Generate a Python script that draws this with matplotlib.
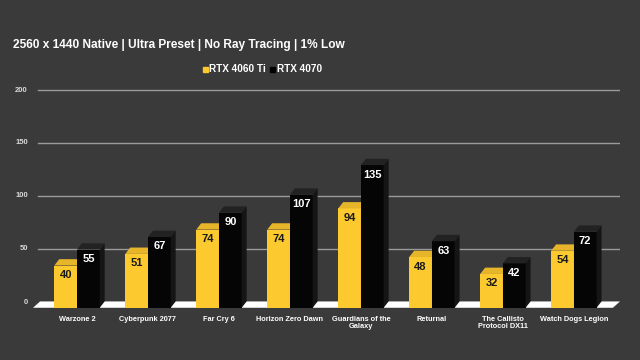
import matplotlib
matplotlib.use("Agg")
import matplotlib.pyplot as plt

# ============ data ============
games = ["Warzone 2", "Cyberpunk 2077", "Far Cry 6", "Horizon Zero Dawn",
         "Guardians of the\nGalaxy", "Returnal", "The Callisto\nProtocol DX11",
         "Watch Dogs Legion"]
rtx_4060ti = [40, 51, 74, 74, 94, 48, 32, 54]
rtx_4070 = [55, 67, 90, 107, 135, 63, 42, 72]
yticks = [0, 50, 100, 150, 200]

BG = "#3a3a3a"
YEL = "#FCC92E"
YEL_TOP = "#E7B52A"
YEL_SIDE = "#C99B1E"
BLK = "#050505"
BLK_TOP = "#222222"
BLK_SIDE = "#151515"

plt.rcParams['font.family'] = ['Liberation Sans', 'DejaVu Sans']

fig = plt.figure(figsize=(6.4, 3.6), dpi=100, facecolor=BG)
ax = fig.add_axes([33 / 640, 1 - 312 / 360, (620 - 33) / 640, (312 - 88) / 360])
ax.set_facecolor(BG)
ax.set_xlim(-0.62, 7.65)
ax.set_ylim(-10, 202)

W = 0.32    # bar width
DX = 0.07   # depth in x
DY = 6      # depth in y (value units)

# gridlines at the back wall
for t in yticks[1:]:
    ax.plot([-0.62 + DX, 7.65], [t, t], color="#9a9a9a", lw=1.0, zorder=1)

# floor
ax.fill([-0.62, 7.55, 7.55 + DX + 0.03, -0.62 + DX + 0.03],
        [-DY, -DY, 0, 0], color="white", zorder=2, lw=0)


def bar3d(x0, v, front, top, side):
    x1 = x0 + W
    ax.fill([x0, x1, x1, x0], [-DY, -DY, v - DY, v - DY], color=front, lw=0, zorder=3)
    ax.fill([x0, x1, x1 + DX, x0 + DX], [v - DY, v - DY, v, v], color=top, lw=0, zorder=3)
    ax.fill([x1, x1 + DX, x1 + DX, x1], [-DY, 0, v, v - DY], color=side, lw=0, zorder=3)


for i, (a, b) in enumerate(zip(rtx_4060ti, rtx_4070)):
    bar3d(i - W, a, YEL, YEL_TOP, YEL_SIDE)
    bar3d(i, b, BLK, BLK_TOP, BLK_SIDE)
    ax.text(i - W / 2, a - DY - 9, str(a), ha="center", va="center",
            fontsize=8, fontweight="bold", color="#1a1a1a", zorder=4)
    ax.text(i + W / 2, b - DY - 9, str(b), ha="center", va="center",
            fontsize=8, fontweight="bold", color="white", zorder=4)

for sp in ax.spines.values():
    sp.set_visible(False)
ax.set_xticks([])
ax.set_yticks([])

for t in yticks:
    fig.text(28 / 640, 1 - (302 - t * 1.06) / 360, str(t), ha="right", va="center",
             fontsize=5.5, fontweight="bold", color="#d8d8d8")

for i, g in enumerate(games):
    ax.annotate(g, xy=(i, -10), xytext=(0, -3), textcoords="offset points",
                ha="center", va="top", fontsize=5.3, fontweight="bold",
                color="white", linespacing=1.05, annotation_clip=False)

fig.text(13 / 640, 1 - 45 / 360, "2560 x 1440 Native | Ultra Preset | No Ray Tracing | 1% Low",
         ha="left", va="center", fontsize=8.6, fontweight="bold", color="white")

# legend
fig.patches.append(plt.Rectangle((203 / 640, 1 - 72 / 360), 5 / 640, 5 / 360,
                                 transform=fig.transFigure, color=YEL))
fig.text(209 / 640, 1 - 69 / 360, "RTX 4060 Ti", ha="left", va="center",
         fontsize=7.2, fontweight="bold", color="white")
fig.patches.append(plt.Rectangle((270 / 640, 1 - 72 / 360), 5 / 640, 5 / 360,
                                 transform=fig.transFigure, color="black"))
fig.text(277 / 640, 1 - 69 / 360, "RTX 4070", ha="left", va="center",
         fontsize=7.2, fontweight="bold", color="white")

fig.savefig("out.png", dpi=100, facecolor=BG)
